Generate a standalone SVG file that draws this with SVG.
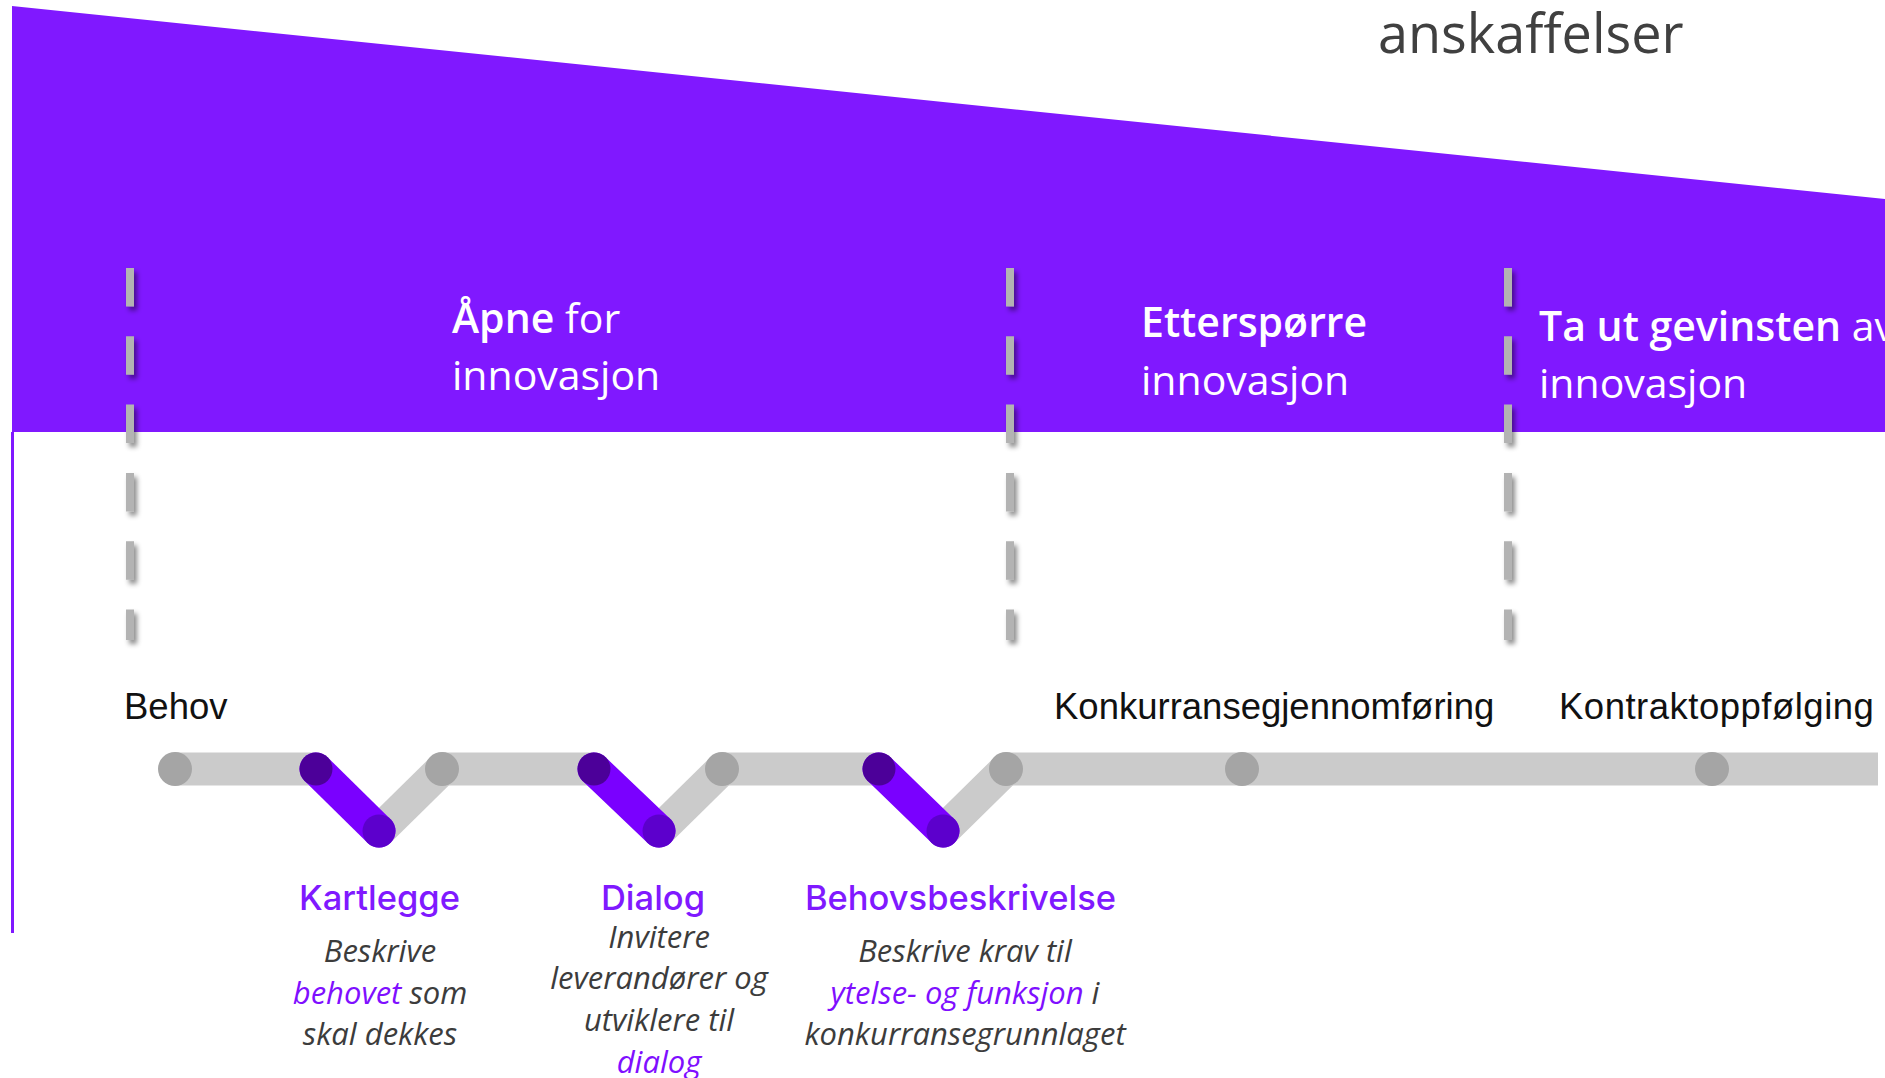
<svg xmlns="http://www.w3.org/2000/svg" width="1885" height="1078" viewBox="0 0 1885 1078">
  <defs>
    <filter id="shadow" x="-200%" y="-10%" width="500%" height="130%">
      <feDropShadow dx="3" dy="4" stdDeviation="2.5" flood-color="#000" flood-opacity="0.45"/>
    </filter>
    <style>
      .phase { font-family: "Open Sans", "Liberation Sans", sans-serif; font-size: 41px; fill: #ffffff; }
      .phase .b { font-weight: 600; }
      .divider { stroke: #b3b3b3; stroke-width: 8; stroke-dasharray: 38.5 29.8; fill: none; }
      .stage { font-family: "Liberation Sans", Arial, sans-serif; font-size: 36.5px; fill: #111111; }
      .step { font-family: Inter, "Liberation Sans", sans-serif; font-weight: 500; font-size: 34.5px; fill: #8019ff; text-anchor: middle; }
      .desc { font-family: "Open Sans", "Liberation Sans", sans-serif; font-style: italic; font-size: 31px; fill: #3c3c3c; text-anchor: middle; }
      .hl { fill: #7f0fff; }
      .track { stroke: #cbcbcb; stroke-width: 33; fill: none; }
      .track-d { stroke: #cbcbcb; stroke-width: 33; stroke-linecap: round; fill: none; }
      .step-bar { stroke: #7a00ff; stroke-width: 33; stroke-linecap: round; fill: none; }
      .dot { fill: #a5a5a5; }
      .cap-top { fill: #4c0099; }
      .cap-bot { fill: #5c00cc; }
    </style>
  </defs>

  <rect x="0" y="0" width="1885" height="1078" fill="#ffffff"/>

  <g id="banner">
    <polygon points="12,6 1885,199 1885,432 12,432" fill="#8018ff"/>
    <line x1="12.5" y1="432" x2="12.5" y2="933" stroke="#8018ff" stroke-width="3"/>
  </g>

  <g id="title">
    <text x="1378" y="53" font-family="'Open Sans', 'Liberation Sans', sans-serif" font-size="54" fill="#404040">anskaffelser</text>
  </g>

  <g id="dividers" filter="url(#shadow)">
    <line class="divider" x1="130" y1="268" x2="130" y2="640"/>
    <line class="divider" x1="1010" y1="268" x2="1010" y2="640"/>
    <line class="divider" x1="1508" y1="268" x2="1508" y2="640"/>
  </g>

  <g id="phase-open">
    <text class="phase" x="452" y="333"><tspan class="b">Åpne</tspan> for</text>
    <text class="phase" x="452" y="390">innovasjon</text>
  </g>
  <g id="phase-demand">
    <text class="phase" x="1141" y="337"><tspan class="b">Etterspørre</tspan></text>
    <text class="phase" x="1141" y="395">innovasjon</text>
  </g>
  <g id="phase-benefit">
    <text class="phase" x="1539" y="341"><tspan class="b">Ta ut gevinsten</tspan> av</text>
    <text class="phase" x="1539" y="398">innovasjon</text>
  </g>

  <g id="connectors">
    <line class="track" x1="175" y1="769" x2="316" y2="769"/>
    <line class="track" x1="442" y1="769" x2="594" y2="769"/>
    <line class="track" x1="722" y1="769" x2="879" y2="769"/>
    <line class="track" x1="1006" y1="769" x2="1878" y2="769"/>
    <line class="track-d" x1="379" y1="831" x2="442" y2="769"/>
    <line class="track-d" x1="659" y1="831" x2="722" y2="769"/>
    <line class="track-d" x1="943" y1="831" x2="1006" y2="769"/>
  </g>

  <g id="step-kartlegge-bar">
    <line class="step-bar" x1="316" y1="769" x2="379" y2="831"/>
    <circle class="cap-top" cx="316" cy="769" r="16.5"/>
    <circle class="cap-bot" cx="379" cy="831" r="16.5"/>
  </g>
  <g id="step-dialog-bar">
    <line class="step-bar" x1="594" y1="769" x2="659" y2="831"/>
    <circle class="cap-top" cx="594" cy="769" r="16.5"/>
    <circle class="cap-bot" cx="659" cy="831" r="16.5"/>
  </g>
  <g id="step-behov-bar">
    <line class="step-bar" x1="879" y1="769" x2="943" y2="831"/>
    <circle class="cap-top" cx="879" cy="769" r="16.5"/>
    <circle class="cap-bot" cx="943" cy="831" r="16.5"/>
  </g>

  <g id="dots">
    <circle class="dot" cx="175" cy="769" r="17"/>
    <circle class="dot" cx="442" cy="769" r="17"/>
    <circle class="dot" cx="722" cy="769" r="17"/>
    <circle class="dot" cx="1006" cy="769" r="17"/>
    <circle class="dot" cx="1242" cy="769" r="17"/>
    <circle class="dot" cx="1712" cy="769" r="17"/>
  </g>

  <g id="stage-behov"><text class="stage" x="124" y="719">Behov</text></g>
  <g id="stage-konkurranse"><text class="stage" x="1054" y="719">Konkurransegjennomføring</text></g>
  <g id="stage-kontrakt"><text class="stage" x="1559" y="719" letter-spacing="0.5">Kontraktoppfølging</text></g>

  <g id="step-kartlegge">
    <text class="step" x="379.5" y="910">Kartlegge</text>
    <text class="desc" x="380" y="962">Beskrive</text>
    <text class="desc" x="380" y="1003.5"><tspan class="hl">behovet</tspan> som</text>
    <text class="desc" x="380" y="1045">skal dekkes</text>
  </g>
  <g id="step-dialog">
    <text class="step" x="653" y="910">Dialog</text>
    <text class="desc" x="659" y="947.5">Invitere</text>
    <text class="desc" x="659" y="989">leverandører og</text>
    <text class="desc" x="659" y="1030.5">utviklere til</text>
    <text class="desc hl" x="659" y="1072.5">dialog</text>
  </g>
  <g id="step-behovsbeskrivelse">
    <text class="step" x="960.5" y="910">Behovsbeskrivelse</text>
    <text class="desc" x="965" y="962">Beskrive krav til</text>
    <text class="desc" x="965" y="1003.5"><tspan class="hl">ytelse- og funksjon</tspan> i</text>
    <text class="desc" x="965" y="1045">konkurransegrunnlaget</text>
  </g>
</svg>
